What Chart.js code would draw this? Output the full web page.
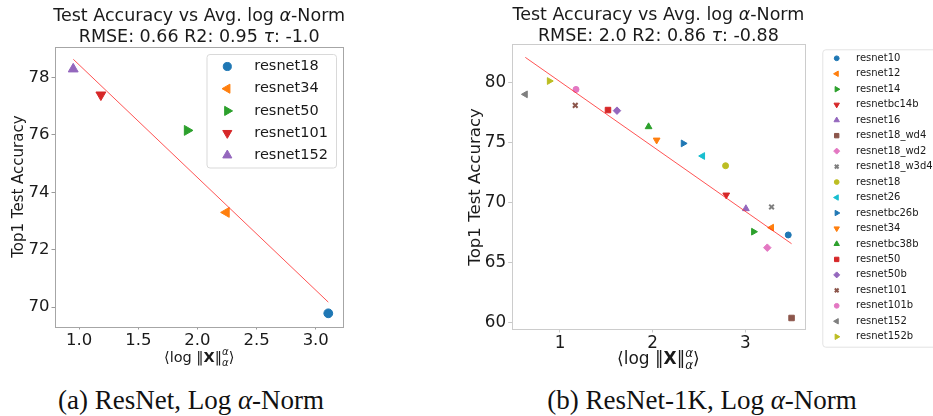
<!DOCTYPE html>
<html>
<head>
<meta charset="utf-8">
<script src="https://cdn.jsdelivr.net/npm/chart.js@4.4.1/dist/chart.umd.min.js"></script>
<style>
  body { margin: 0; background: #fff; width: 933px; height: 416px; overflow: hidden; position: relative; }
  canvas { position: absolute; top: 0; }
  #chartA { left: 0; }
  #chartB { left: 440px; }
  .caption {
    position: absolute; top: 385px; line-height: 30px;
    font-family: "Liberation Serif", serif; font-size: 27px; color: #111;
    white-space: nowrap; transform: translateX(-50%);
  }
</style>
</head>
<body>
<canvas id="chartA" width="440" height="375"></canvas>
<canvas id="chartB" width="493" height="375"></canvas>
<div class="caption" style="left:191px">(a) ResNet, Log <i>α</i>-Norm</div>
<div class="caption" style="left:702px">(b) ResNet-1K, Log <i>α</i>-Norm</div>
<script>
// ---- data: (a) ResNet ----
const modelsA = ['resnet18', 'resnet34', 'resnet50', 'resnet101', 'resnet152'];
const normA = [3.106, 2.244, 1.913, 1.183, 0.949];
const accA = [69.78, 73.30, 76.16, 77.40, 78.30];
const fitXA = [0.95, 3.106];
const fitYA = [78.64, 70.17];
const xTicksA = [1.0, 1.5, 2.0, 2.5, 3.0];
const yTicksA = [70, 72, 74, 76, 78];

// ---- data: (b) ResNet-1K ----
const modelsB = ['resnet10', 'resnet12', 'resnet14', 'resnetbc14b', 'resnet16', 'resnet18_wd4',
  'resnet18_wd2', 'resnet18_w3d4', 'resnet18', 'resnet26', 'resnetbc26b', 'resnet34',
  'resnetbc38b', 'resnet50', 'resnet50b', 'resnet101', 'resnet101b', 'resnet152', 'resnet152b'];
const normB = [3.463, 3.283, 3.089, 2.794, 3.006, 3.499, 3.237, 3.283, 2.787, 2.539, 2.330, 2.043,
  1.956, 1.518, 1.615, 1.165, 1.173, 0.626, 0.885];
const accB = [67.31, 67.92, 67.58, 70.64, 69.50, 60.39, 66.25, 69.64, 73.08, 73.89, 74.94, 75.22,
  76.33, 77.72, 77.67, 78.11, 79.44, 79.03, 80.14];
const fitXB = [0.626, 3.499];
const fitYB = [82.11, 66.58];
const xTicksB = [1, 2, 3];
const yTicksB = [60, 65, 70, 75, 80];

const FONT = '"DejaVu Sans", sans-serif';
const INK = '#1a1a1a';
const tab10 = ['#1f77b4', '#ff7f0e', '#2ca02c', '#d62728', '#9467bd',
  '#8c564b', '#e377c2', '#7f7f7f', '#bcbd22', '#17becf'];
// matplotlib marker cycle: o < > v ^ s D X
const markerCycle = [
  { style: 'circle', rot: 0, k: 1.0 },
  { style: 'triangle', rot: -90, k: 1.3 },
  { style: 'triangle', rot: 90, k: 1.3 },
  { style: 'triangle', rot: 180, k: 1.3 },
  { style: 'triangle', rot: 0, k: 1.3 },
  { style: 'rect', rot: 0, k: 1.3 },
  { style: 'rectRot', rot: 0, k: 1.25 },
  { style: 'crossRot', rot: 0, k: 1.1 }
];

function buildDatasets(models, xs, ys, fitX, fitY, baseR, crossW) {
  const sets = models.map((name, i) => {
    const m = markerCycle[i % markerCycle.length];
    const c = tab10[i % tab10.length];
    return {
      type: 'scatter',
      label: name,
      data: [{ x: xs[i], y: ys[i] }],
      pointStyle: m.style,
      pointRotation: m.rot,
      pointRadius: baseR * m.k,
      pointBackgroundColor: c,
      pointBorderColor: c,
      pointBorderWidth: m.style === 'crossRot' ? crossW : 1,
      order: 1
    };
  });
  sets.push({
    type: 'line',
    label: 'fit',
    isFit: true,
    data: fitX.map((x, i) => ({ x: x, y: fitY[i] })),
    borderColor: 'rgba(255, 40, 40, 0.8)',
    borderWidth: 1,
    pointRadius: 0,
    order: 0
  });
  return sets;
}

// text made of pieces with their own font / shift
function drawRich(ctx, parts, cx, y) {
  let total = 0;
  const widths = parts.map(p => {
    ctx.font = p.font;
    const w = ctx.measureText(p.t).width;
    if (!p.stack) total += w;
    return w;
  });
  let x = cx - total / 2;
  ctx.textBaseline = 'alphabetic';
  ctx.textAlign = 'left';
  ctx.fillStyle = INK;
  parts.forEach((p, i) => {
    ctx.font = p.font;
    ctx.fillText(p.t, x, y + (p.dy || 0));
    if (!p.stack) x += widths[i];
  });
}

function titleParts(size, stats, tau) {
  const n = size + 'px ' + FONT;
  const it = 'italic ' + size + 'px ' + FONT;
  return [
    [{ t: 'Test Accuracy vs Avg. log ', font: n }, { t: 'α', font: it }, { t: '-Norm', font: n }],
    [{ t: stats, font: n }, { t: 'τ', font: it }, { t: ': ' + tau, font: n }]
  ];
}

function xLabelParts(size) {
  const n = size + 'px ' + FONT;
  const b = 'bold ' + size + 'px ' + FONT;
  const s = 'italic ' + (size * 0.7).toFixed(1) + 'px ' + FONT;
  return [
    { t: '⟨log ‖', font: n },
    { t: 'X', font: b },
    { t: '‖', font: n },
    { t: 'α', font: s, dy: -size * 0.42, stack: true },
    { t: 'α', font: s, dy: size * 0.3 },
    { t: '⟩', font: n }
  ];
}

// title, x label, frame and boxed legend
function decor(cfg) {
  return {
    id: 'decor',
    beforeDatasetsDraw(chart) {
      const { ctx, chartArea: a } = chart;
      ctx.save();
      ctx.strokeStyle = cfg.frame;
      ctx.lineWidth = 1;
      ctx.strokeRect(Math.round(a.left) + 0.5, Math.round(a.top) + 0.5,
        Math.round(a.right - a.left), Math.round(a.bottom - a.top));
      ctx.restore();
    },
    afterDraw(chart) {
      const { ctx, chartArea: a } = chart;
      const cx = (a.left + a.right) / 2;
      ctx.save();
      cfg.title.forEach((parts, i) => drawRich(ctx, parts, cx, cfg.titleY[i]));
      drawRich(ctx, cfg.xLabel, cx, cfg.xLabelY);

      const L = cfg.legend;
      ctx.fillStyle = 'rgba(255,255,255,0.85)';
      ctx.strokeStyle = L.border;
      ctx.lineWidth = 1;
      ctx.beginPath();
      if (ctx.roundRect) ctx.roundRect(L.x + 0.5, L.y + 0.5, L.w, L.h, 3);
      else ctx.rect(L.x + 0.5, L.y + 0.5, L.w, L.h);
      ctx.fill();
      ctx.stroke();
      let row = 0;
      chart.data.datasets.forEach(ds => {
        if (ds.isFit) return;
        const y = L.firstY + row * L.step;
        ctx.fillStyle = ds.pointBackgroundColor;
        ctx.strokeStyle = ds.pointBorderColor;
        ctx.lineWidth = ds.pointBorderWidth;
        Chart.helpers.drawPoint(ctx, {
          pointStyle: ds.pointStyle,
          rotation: ds.pointRotation,
          radius: ds.pointRadius * L.scale,
          borderWidth: ds.pointBorderWidth
        }, L.markerX, y);
        ctx.fillStyle = INK;
        ctx.font = L.size + 'px ' + FONT;
        ctx.textBaseline = 'middle';
        ctx.textAlign = 'left';
        ctx.fillText(ds.label, L.textX, y);
        row++;
      });
      ctx.restore();
    }
  };
}

function axes(o) {
  return {
    x: {
      type: 'linear', min: o.xMin, max: o.xMax,
      grid: { display: true, drawOnChartArea: false, drawTicks: true, tickLength: 3, color: o.tickColor },
      border: { display: false },
      afterBuildTicks: s => { s.ticks = o.xTicks.map(v => ({ value: v })); },
      afterFit: s => { s.height = o.xH; },
      ticks: {
        padding: 1, color: INK, font: { family: FONT, size: o.tickSize },
        maxRotation: 0, autoSkip: false, callback: o.xFmt
      }
    },
    y: {
      type: 'linear', min: o.yMin, max: o.yMax,
      grid: { display: true, drawOnChartArea: false, drawTicks: true, tickLength: 3.5, color: o.tickColor },
      border: { display: false },
      afterBuildTicks: s => { s.ticks = o.yTicks.map(v => ({ value: v })); },
      afterFit: s => { s.width = o.yW; },
      ticks: { padding: 2, color: INK, font: { family: FONT, size: o.tickSize }, callback: v => String(v) },
      title: {
        display: true, text: 'Top1 Test Accuracy', color: INK,
        font: { family: FONT, size: o.yTitleSize },
        padding: { top: o.yTitlePad, bottom: 0 }
      }
    }
  };
}

new Chart(document.getElementById('chartA'), {
  data: { datasets: buildDatasets(modelsA, normA, accA, fitXA, fitYA, 4.4, 2) },
  options: {
    responsive: false, animation: false, devicePixelRatio: 1,
    layout: { padding: { top: 46.7, right: 96.7, bottom: 0, left: 0 } },
    plugins: { legend: { display: false }, tooltip: { enabled: false } },
    scales: axes({
      xMin: 0.795, xMax: 3.233, yMin: 69.32, yMax: 79.08,
      xTicks: xTicksA, yTicks: yTicksA, xFmt: v => v.toFixed(1),
      xH: 48.5, yW: 55, tickSize: 16.5, yTitleSize: 15, yTitlePad: 10,
      tickColor: '#9a9a9a'
    })
  },
  plugins: [decor({
    frame: '#a6a6a6',
    title: titleParts(17.5, 'RMSE: 0.66 R2: 0.95 ', '-1.0'),
    titleY: [21.1, 42.4],
    xLabel: xLabelParts(14.5), xLabelY: 361.5,
    legend: {
      x: 206.5, y: 54, w: 129.5, h: 113.5, border: '#d9d9d9',
      markerX: 227.3, textX: 254.3, firstY: 66.5, step: 22.2, size: 14.5, scale: 0.92
    }
  })]
});

new Chart(document.getElementById('chartB'), {
  data: { datasets: buildDatasets(modelsB, normB, accB, fitXB, fitYB, 3, 2) },
  options: {
    responsive: false, animation: false, devicePixelRatio: 1,
    layout: { padding: { top: 44.3, right: 128, bottom: 0, left: 0 } },
    plugins: { legend: { display: false }, tooltip: { enabled: false } },
    scales: axes({
      xMin: 0.479, xMax: 3.644, yMin: 59.43, yMax: 83.2,
      xTicks: xTicksB, yTicks: yTicksB, xFmt: v => String(v),
      xH: 45.5, yW: 71.7, tickSize: 16.8, yTitleSize: 16.6, yTitlePad: 26,
      tickColor: '#c8c8c8'
    })
  },
  plugins: [decor({
    frame: '#cccccc',
    title: titleParts(17.5, 'RMSE: 2.0 R2: 0.86 ', '-0.88'),
    titleY: [20.4, 41.4],
    xLabel: xLabelParts(17), xLabelY: 364,
    legend: {
      x: 382.3, y: 49.3, w: 140, h: 297.4, border: '#e3e3e3',
      markerX: 396.7, textX: 416, firstY: 58.3, step: 15.47, size: 10, scale: 0.8
    }
  })]
});
</script>
</body>
</html>
